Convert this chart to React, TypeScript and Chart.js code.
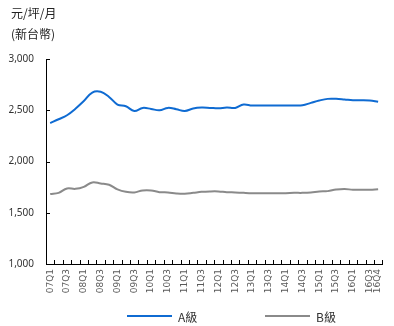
import { useEffect, useRef } from 'react';
import { Chart, registerables } from 'chart.js';

Chart.register(...registerables);

const quarters = [
  '07Q1', '07Q2', '07Q3', '07Q4', '08Q1', '08Q2', '08Q3', '08Q4',
  '09Q1', '09Q2', '09Q3', '09Q4', '10Q1', '10Q2', '10Q3', '10Q4',
  '11Q1', '11Q2', '11Q3', '11Q4', '12Q1', '12Q2', '12Q3', '12Q4',
  '13Q1', '13Q2', '13Q3', '13Q4', '14Q1', '14Q2', '14Q3', '14Q4',
  '15Q1', '15Q2', '15Q3', '15Q4', '16Q1', '16Q2', '16Q3', '16Q4',
];

const gradeA = [
  2375, 2412, 2451, 2515, 2590, 2673, 2680, 2630,
  2556, 2539, 2493, 2523, 2513, 2500, 2523, 2510,
  2493, 2517, 2526, 2523, 2519, 2526, 2523, 2556,
  2546, 2546, 2546, 2546, 2547, 2547, 2549, 2572,
  2595, 2611, 2611, 2605, 2598, 2598, 2595, 2582,
];

const gradeB = [
  1682, 1694, 1737, 1733, 1753, 1796, 1786, 1773,
  1728, 1704, 1698, 1718, 1718, 1701, 1698, 1688,
  1685, 1694, 1704, 1708, 1708, 1701, 1698, 1694,
  1691, 1691, 1691, 1691, 1691, 1694, 1694, 1698,
  1708, 1711, 1726, 1732, 1724, 1724, 1724, 1730,
];

const seriesNames = ['A級', 'B級'];
const seriesColors = ['#0f6bd2', '#8a8a8a'];
const unitLines = ['元/坪/月', '(新台幣)'];
const yMin = 1000;
const yMax = 3000;
const yStep = 500;

const decorPlugin = {
  id: 'decor',
  afterDraw(chart: any) {
    const { ctx, chartArea, scales } = chart;
    const xs = scales.x;
    const ys = scales.y;
    ctx.save();
    ctx.strokeStyle = '#000';
    ctx.lineWidth = 1;
    ctx.beginPath();
    // x tick marks at category boundaries, pointing inward
    for (let i = 0; i <= quarters.length; i++) {
      const x = Math.round(xs.getPixelForValue(i - 0.5)) + 0.5;
      ctx.moveTo(x, chartArea.bottom);
      ctx.lineTo(x, chartArea.bottom - 4);
    }
    // y tick marks pointing inward
    for (let v = yMin; v <= yMax; v += yStep) {
      const y = Math.round(ys.getPixelForValue(v)) + 0.5;
      ctx.moveTo(chartArea.left, y);
      ctx.lineTo(chartArea.left + 4, y);
    }
    ctx.stroke();

    // unit title
    ctx.fillStyle = '#222';
    ctx.font = '12px "Noto Sans CJK TC", "Noto Sans CJK SC", sans-serif';
    ctx.textBaseline = 'middle';
    ctx.textAlign = 'left';
    ctx.fillText(unitLines[0], 11, 13);
    ctx.fillText(unitLines[1], 11, 34);

    // legend
    const ly = 316;
    const starts = [127, 265];
    chart.data.datasets.forEach((ds: any, i: number) => {
      const sx = starts[i];
      ctx.strokeStyle = ds.borderColor;
      ctx.lineWidth = 2;
      ctx.beginPath();
      ctx.moveTo(sx, ly);
      ctx.lineTo(sx + 45, ly);
      ctx.stroke();
      ctx.fillStyle = '#333';
      ctx.font = '12px "Noto Sans CJK TC", "Noto Sans", sans-serif';
      ctx.fillText(ds.label, sx + 51, ly + 1);
    });
    ctx.restore();
  },
};

export default function App() {
  const ref = useRef<HTMLCanvasElement>(null);
  useEffect(() => {
    if (!ref.current) return;
    const chart = new Chart(ref.current, {
      type: 'line',
      data: {
        labels: quarters,
        datasets: [
          {
            label: seriesNames[0],
            data: gradeA,
            borderColor: seriesColors[0],
            backgroundColor: seriesColors[0],
            borderWidth: 2,
            pointRadius: 0,
            tension: 0.4,
            fill: false,
          },
          {
            label: seriesNames[1],
            data: gradeB,
            borderColor: seriesColors[1],
            backgroundColor: seriesColors[1],
            borderWidth: 2,
            pointRadius: 0,
            tension: 0.4,
            fill: false,
          },
        ],
      },
      options: {
        animation: false,
        responsive: true,
        maintainAspectRatio: false,
        layout: { padding: { top: 59, right: 6, left: 0, bottom: 0 } },
        plugins: {
          legend: { display: false },
          tooltip: { enabled: false },
          title: { display: false },
        },
        scales: {
          x: {
            offset: true,
            grid: { display: false, drawTicks: false },
            border: { display: true, color: '#000', width: 1 },
            afterFit: (s: any) => { s.height = 62; },
            ticks: {
              autoSkip: false,
              minRotation: 90,
              maxRotation: 90,
              padding: 5,
              color: '#595959',
              font: { family: 'DejaVu Sans', size: 9 },
              callback: (_v: any, i: number) =>
                i % 2 === 0 || i === quarters.length - 1 ? quarters[i] : '',
            },
          },
          y: {
            min: yMin,
            max: yMax,
            grid: { display: false, drawTicks: false },
            border: { display: true, color: '#000', width: 1 },
            afterFit: (s: any) => { s.width = 46; },
            ticks: {
              stepSize: yStep,
              padding: 12,
              color: '#333',
              font: { family: 'Noto Sans', size: 10 },
              callback: (v: any) => Number(v).toLocaleString('en-US'),
            },
          },
        },
      },
      plugins: [decorPlugin],
    });
    return () => chart.destroy();
  }, []);
  return (
    <div style={{ position: 'absolute', left: 0, top: 0, width: 394, height: 326 }}>
      <canvas ref={ref} />
    </div>
  );
}
